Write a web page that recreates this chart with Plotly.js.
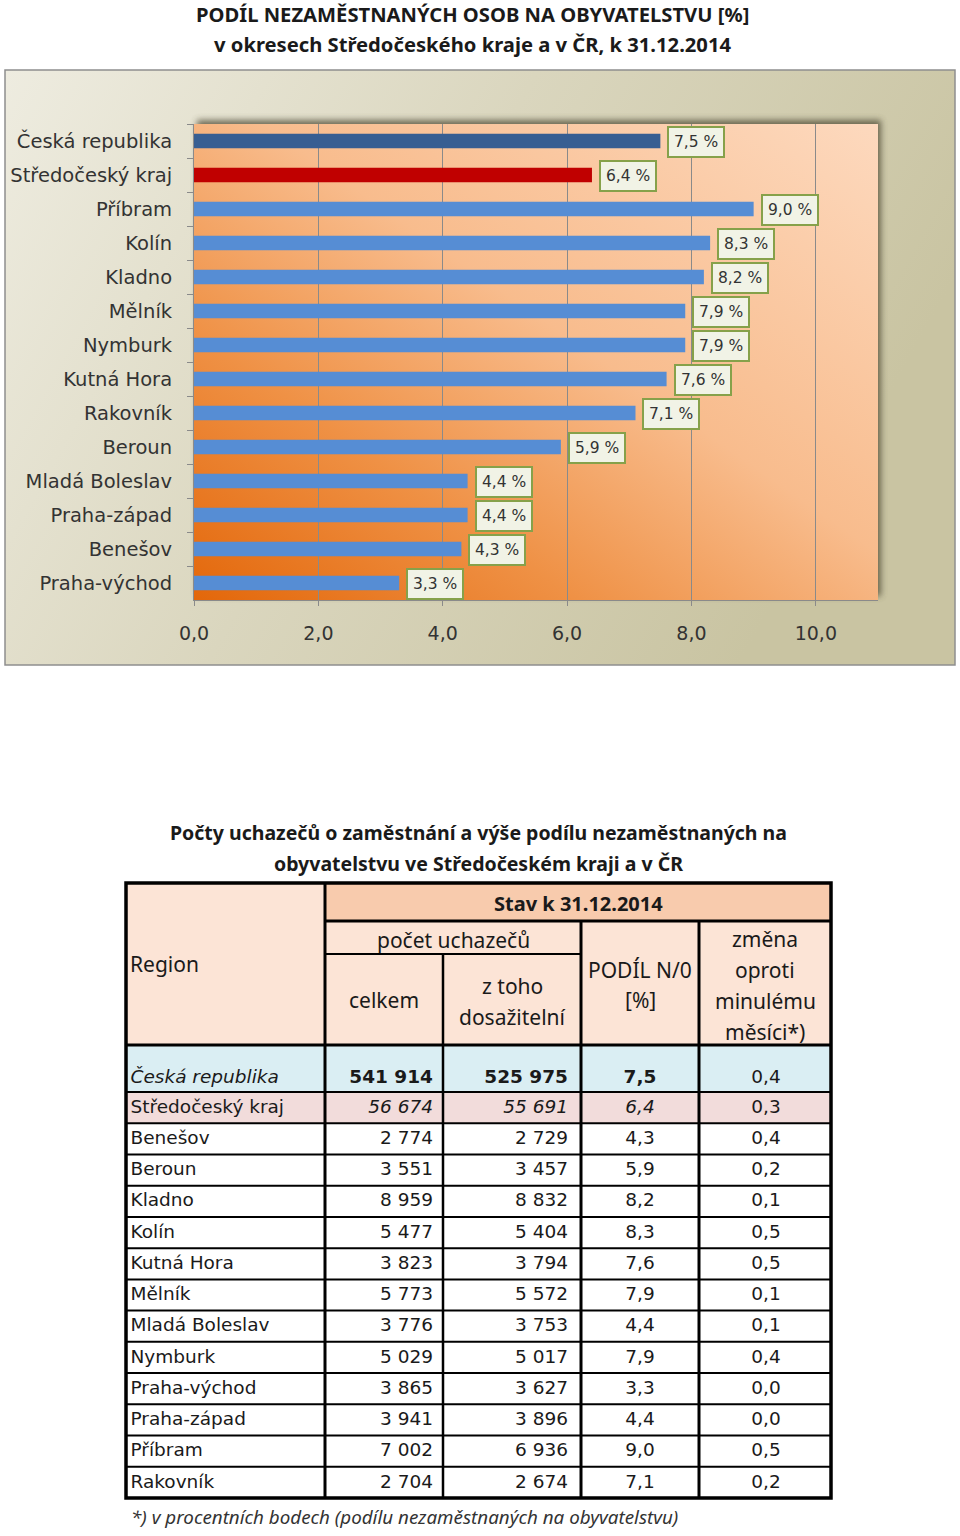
<!DOCTYPE html>
<html>
<head>
<meta charset="utf-8">
<script src="https://cdn.plot.ly/plotly-3.0.1.min.js"></script>
<style>html,body{margin:0;padding:0;background:#fff;}#chart{width:960px;height:1536px;}</style>
</head>
<body>
<div id="chart"></div>
<script>
// ---------- DATA ----------
const chartCategories = ['Česká republika','Středočeský kraj','Příbram','Kolín','Kladno','Mělník','Nymburk','Kutná Hora','Rakovník','Beroun','Mladá Boleslav','Praha-západ','Benešov','Praha-východ'];
const chartValues = [7.5, 6.4, 9.0, 8.3, 8.2, 7.9, 7.9, 7.6, 7.1, 5.9, 4.4, 4.4, 4.3, 3.3];
const xTickValues = [0, 2, 4, 6, 8, 10];

const tableRegions = ['Česká republika','Středočeský kraj','Benešov','Beroun','Kladno','Kolín','Kutná Hora','Mělník','Mladá Boleslav','Nymburk','Praha-východ','Praha-západ','Příbram','Rakovník'];
const tableCelkem = [541914, 56674, 2774, 3551, 8959, 5477, 3823, 5773, 3776, 5029, 3865, 3941, 7002, 2704];
const tableDosazitelni = [525975, 55691, 2729, 3457, 8832, 5404, 3794, 5572, 3753, 5017, 3627, 3896, 6936, 2674];
const tablePodil = [7.5, 6.4, 4.3, 5.9, 8.2, 8.3, 7.6, 7.9, 4.4, 7.9, 3.3, 4.4, 9.0, 7.1];
const tableZmena = [0.4, 0.3, 0.4, 0.2, 0.1, 0.5, 0.5, 0.1, 0.1, 0.4, 0.0, 0.0, 0.5, 0.2];

const chartTitle1 = 'PODÍL NEZAMĚSTNANÝCH OSOB NA OBYVATELSTVU [%]';
const chartTitle2 = 'v okresech Středočeského kraje a v ČR, k 31.12.2014';
const tableTitle1 = 'Počty uchazečů o zaměstnání a výše podílu nezaměstnaných na';
const tableTitle2 = 'obyvatelstvu ve Středočeském kraji a v ČR';
const footnote = '*) v procentních bodech (podílu nezaměstnaných na obyvatelstvu)';

// ---------- STYLE / LAYOUT ----------
const W = 960, H = 1536;
const plotL = 194, plotR = 878, plotT = 124, plotB = 600;
const frameL = 5, frameR = 955, frameT = 70, frameB = 665;
const colorCR = '#375E92', colorSK = '#C00000', colorOkres = '#568DD4';
const barColors = chartCategories.map((c, i) => i === 0 ? colorCR : (i === 1 ? colorSK : colorOkres));

const FONT_LBL = 'DejaVu Sans, Verdana, sans-serif';
const FONT_HDR = 'Noto Sans, Open Sans, sans-serif';

const fmtInt = n => String(n).replace(/\B(?=(\d{3})+(?!\d))/g, ' ');
const fmt1 = v => v.toFixed(1).replace('.', ',');

const svgUri = s => 'data:image/svg+xml;charset=utf-8,' + encodeURIComponent(s);

const plotW = plotR - plotL, plotH = plotB - plotT;
const frameW = frameR - frameL, frameH = frameB - frameT;
const frameSvg = `<svg xmlns='http://www.w3.org/2000/svg' width='${frameW}' height='${frameH}' viewBox='0 0 ${frameW} ${frameH}' preserveAspectRatio='none'>
<defs>
<linearGradient id='fg' x1='0' y1='0' x2='1' y2='0.35'>
<stop offset='0' stop-color='#EEECE0'/><stop offset='0.5' stop-color='#DAD6BE'/><stop offset='1' stop-color='#C9C4A2'/>
</linearGradient>
<filter id='bl' x='-10%' y='-10%' width='120%' height='120%'><feGaussianBlur stdDeviation='3'/></filter>
</defs>
<rect width='${frameW}' height='${frameH}' fill='url(#fg)'/>
<rect x='${plotL - frameL + 3}' y='${plotT - frameT - 4}' width='${plotW}' height='${plotH}' fill='#4c4733' opacity='0.75' filter='url(#bl)'/>
</svg>`;
const plotSvg = `<svg xmlns='http://www.w3.org/2000/svg' width='${plotW}' height='${plotH}' viewBox='0 0 ${plotW} ${plotH}' preserveAspectRatio='none'>
<defs>
<linearGradient id='pg' x1='0' y1='1' x2='1' y2='0'>
<stop offset='0' stop-color='#E3670A'/><stop offset='0.28' stop-color='#EF9145'/><stop offset='0.55' stop-color='#F8BC8D'/><stop offset='1' stop-color='#FDD9BE'/>
</linearGradient>
</defs>
<rect width='${plotW}' height='${plotH}' fill='url(#pg)'/>
</svg>`;

// ---------- CHART TRACE ----------
const traces = [];
traces.push({
  type: 'bar', orientation: 'h',
  x: chartValues, y: chartCategories,
  marker: {color: barColors, line: {width: 0}},
  width: 0.42, hoverinfo: 'skip',
  xaxis: 'x', yaxis: 'y'
});

const annotations = [];
chartCategories.forEach((c, i) => {
  annotations.push({
    xref: 'x', yref: 'y', x: chartValues[i], y: c,
    xanchor: 'left', yanchor: 'middle', xshift: 7, yshift: -1,
    text: fmt1(chartValues[i]) + ' %', showarrow: false,
    font: {family: FONT_LBL, size: 15.5, color: '#333'},
    bgcolor: '#F1F3E6', bordercolor: '#86A14A', borderwidth: 2, borderpad: 5
  });
});

// ---------- TABLE GEOMETRY ----------
const colEdges = [126, 325, 443, 581, 699, 831];
const hdrTop = 883, hdrStavB = 921, hdrPocetB = 954, hdrBottom = 1045;
const firstRowH = 47, rowH = 31.23;
const rowEdges = [hdrBottom, hdrBottom + firstRowH];
for (let i = 1; i < tableRegions.length; i++) rowEdges.push(hdrBottom + firstRowH + i * rowH);
const tblBottom = rowEdges[rowEdges.length - 1];

const shapes = [];
// frame border
shapes.push({type: 'rect', xref: 'x2', yref: 'y2', x0: frameL, x1: frameR, y0: frameT, y1: frameB, line: {color: '#8E8E8E', width: 1.5}, fillcolor: 'rgba(0,0,0,0)', layer: 'below'});
// table fills (below the text trace)
const rect = (x0, x1, y0, y1, fill) => shapes.push({type: 'rect', xref: 'x2', yref: 'y2', x0, x1, y0, y1, fillcolor: fill, line: {width: 0}, layer: 'below'});
rect(colEdges[0], colEdges[5], hdrTop, hdrBottom, '#FCE4D6');
rect(colEdges[1], colEdges[5], hdrTop, hdrStavB, '#F8CBAD');
rect(colEdges[0], colEdges[5], rowEdges[0], rowEdges[1], '#DAEEF3');
rect(colEdges[0], colEdges[5], rowEdges[1], rowEdges[2], '#F2DCDB');
// lines
const line = (x0, y0, x1, y1, w) => shapes.push({type: 'line', xref: 'x2', yref: 'y2', x0, y0, x1, y1, line: {color: '#000', width: w}, layer: 'above'});
for (let i = 2; i < rowEdges.length - 1; i++) line(colEdges[0], rowEdges[i], colEdges[5], rowEdges[i], 2);
line(colEdges[0], rowEdges[1], colEdges[5], rowEdges[1], 2);
line(colEdges[1], hdrStavB, colEdges[5], hdrStavB, 3);
line(colEdges[1], hdrPocetB, colEdges[3], hdrPocetB, 2);
line(colEdges[0], hdrBottom, colEdges[5], hdrBottom, 3);
line(colEdges[1], hdrTop, colEdges[1], tblBottom, 3);
line(colEdges[2], hdrPocetB, colEdges[2], tblBottom, 2.5);
line(colEdges[3], hdrStavB, colEdges[3], tblBottom, 3);
line(colEdges[4], hdrStavB, colEdges[4], tblBottom, 3);
shapes.push({type: 'rect', xref: 'x2', yref: 'y2', x0: colEdges[0], x1: colEdges[5], y0: hdrTop, y1: tblBottom, line: {color: '#000', width: 3.5}, fillcolor: 'rgba(0,0,0,0)', layer: 'above'});

// titles & header texts (pixel axes x2/y2)
const txt = (x, y, text, opt) => annotations.push(Object.assign({xref: 'x2', yref: 'y2', x, y, text, showarrow: false, xanchor: 'center', yanchor: 'middle', font: {family: FONT_HDR, size: 21, color: '#1a1a1a'}}, opt || {}));
const boldTitle = {family: FONT_HDR, size: 19.5, color: '#1a1a1a', weight: 700};
txt(472, 14, chartTitle1, {font: Object.assign({}, boldTitle, {size: 20.2})});
txt(472, 44, chartTitle2, {font: Object.assign({}, boldTitle, {size: 20.2})});
txt(478, 832, tableTitle1, {font: boldTitle});
txt(478, 863, tableTitle2, {font: boldTitle});
txt(128, 964, 'Region', {xanchor: 'left'});
txt(578, 903, 'Stav k 31.12.2014', {font: {family: FONT_HDR, size: 20, color: '#1a1a1a', weight: 700}});
txt(453, 940, 'počet uchazečů');
txt(384, 1000, 'celkem');
txt(512, 986, 'z toho');
txt(512, 1017, 'dosažitelní');
txt(640, 970, 'PODÍL N/0');
txt(640, 1000, '[%]');
txt(765, 939, 'změna');
txt(765, 970, 'oproti');
txt(765, 1001, 'minulému');
txt(765, 1032, 'měsíci*)');
txt(129, 1517, footnote, {xanchor: 'left', font: {family: FONT_HDR, size: 18.8, color: '#333', style: 'italic'}});

// table data cells as a text trace on pixel axes
const tx = [], ty = [], tt = [], tp = [];
const wrap = (s, row, col) => {
  if (row === 0) { if (col === 0) return '<i>' + s + '</i>'; if (col <= 3) return '<b>' + s + '</b>'; return s; }
  if (row === 1) { if (col >= 1 && col <= 3) return '<i>' + s + '</i>'; return s; }
  return s;
};
tableRegions.forEach((r, i) => {
  const yc = rowEdges[i + 1] - rowH / 2 + (i === 0 ? 2 : 0.5);
  const cells = [
    [130.5, r, 'middle right'],
    [433, fmtInt(tableCelkem[i]), 'middle left'],
    [568, fmtInt(tableDosazitelni[i]), 'middle left'],
    [640, fmt1(tablePodil[i]), 'middle center'],
    [766, fmt1(tableZmena[i]), 'middle center']
  ];
  cells.forEach((c, j) => { tx.push(c[0]); ty.push(yc); tt.push(wrap(c[1], i, j)); tp.push(c[2]); });
});
traces.push({
  type: 'scatter', mode: 'text', x: tx, y: ty, text: tt, textposition: tp,
  textfont: {family: FONT_LBL, size: 18.5, color: '#1a1a1a'},
  hoverinfo: 'skip', cliponaxis: false, xaxis: 'x2', yaxis: 'y2'
});

const layout = {
  width: W, height: H, margin: {l: 0, r: 0, t: 0, b: 0},
  paper_bgcolor: '#ffffff', plot_bgcolor: 'rgba(0,0,0,0)',
  showlegend: false, separators: ', ',
  xaxis: {
    domain: [plotL / W, plotR / W], anchor: 'y', range: [0, 11],
    tickvals: xTickValues, tickformat: '.1f',
    showgrid: true, gridcolor: '#8A8A8A', gridwidth: 1, zeroline: false,
    showline: true, linecolor: '#8A8A8A', linewidth: 1,
    ticks: 'outside', ticklen: 5, tickcolor: '#8A8A8A', ticklabelstandoff: 11,
    tickfont: {family: FONT_LBL, size: 19, color: '#333'}, fixedrange: true
  },
  yaxis: {
    domain: [1 - plotB / H, 1 - plotT / H], anchor: 'x', type: 'category',
    categoryorder: 'array', categoryarray: chartCategories, autorange: 'reversed',
    showgrid: false, zeroline: false, showline: true, linecolor: '#8A8A8A', linewidth: 1,
    ticks: 'outside', tickson: 'boundaries', ticklen: 6, tickcolor: '#8A8A8A', ticklabelstandoff: 17,
    tickfont: {family: FONT_LBL, size: 19.5, color: '#333'}, fixedrange: true
  },
  xaxis2: {domain: [0, 1], range: [0, W], anchor: 'y2', visible: false, fixedrange: true},
  yaxis2: {domain: [0, 1], range: [H, 0], anchor: 'x2', visible: false, fixedrange: true},
  images: [
    {source: svgUri(frameSvg), xref: 'paper', yref: 'paper', x: frameL / W, y: 1 - frameT / H, sizex: frameW / W, sizey: frameH / H, sizing: 'stretch', xanchor: 'left', yanchor: 'top', layer: 'below'},
    {source: svgUri(plotSvg), xref: 'paper', yref: 'paper', x: plotL / W, y: 1 - plotT / H, sizex: plotW / W, sizey: plotH / H, sizing: 'stretch', xanchor: 'left', yanchor: 'top', layer: 'below'}
  ],
  shapes, annotations
};

Plotly.newPlot('chart', traces, layout, {staticPlot: true, displayModeBar: false});
</script>
</body>
</html>
